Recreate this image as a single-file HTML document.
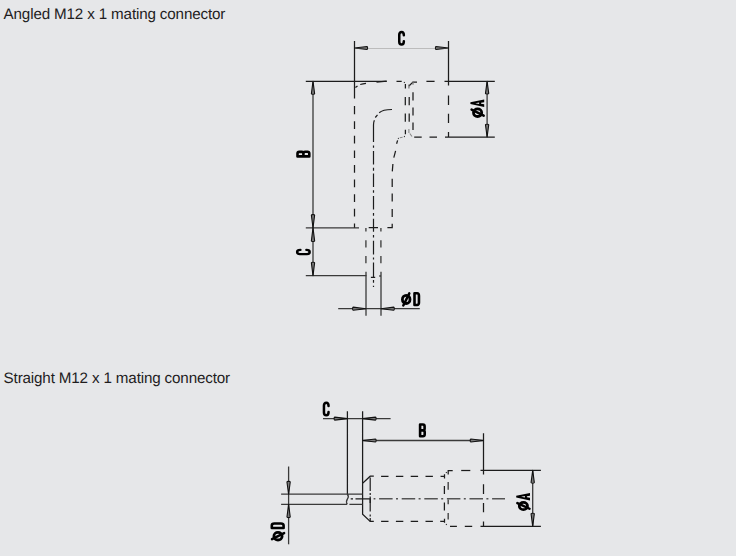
<!DOCTYPE html>
<html><head><meta charset="utf-8">
<style>
html,body{margin:0;padding:0;background:#e6e7e9;width:736px;height:556px;overflow:hidden}
.t{position:absolute;left:3.6px;font-family:"Liberation Sans",sans-serif;font-size:15.2px;letter-spacing:-0.15px;color:#1f1d1e;white-space:nowrap;line-height:16px;text-rendering:geometricPrecision}
svg{position:absolute;left:0;top:0}
.s{fill:none;stroke:#1c1c1c;stroke-width:1.25}
.g{fill:none;stroke:#3a3a3a;stroke-width:1.3}
.h{fill:none;stroke:#1c1c1c;stroke-width:1.25}
.hg{fill:none;stroke:#505050;stroke-width:1.5}
.c{fill:none;stroke:#1c1c1c;stroke-width:1.2}
.cg{fill:none;stroke:#555;stroke-width:1.5}
.lt{fill:none;stroke:#bcbcbc;stroke-width:1}
.ar{fill:#7a7a7a;stroke:#111;stroke-width:1.1;stroke-linejoin:round}
.lb{fill:none;stroke:#000;stroke-width:2.5;stroke-linejoin:round;stroke-linecap:round}
</style></head><body>
<div class="t" style="top:6.5px">Angled M12 x 1 mating connector</div>
<div class="t" style="top:370.5px">Straight M12 x 1 mating connector</div>
<svg width="736" height="556" viewBox="0 0 736 556">
<path class="s" d="M354.5 41V98.5 M448.5 41V85.5"/>
<path class="lt" d="M367 48.5H435.5"/>
<path class="s" d="M305.8 81.35H386.7 M444.5 81.35H494.8 M445 137H494.8"/>
<path class="g" d="M313 81V275.5"/>
<path class="g" d="M305.8 227.8H359 M305.8 275.6H366.5"/>
<path class="g" d="M487.1 81V137"/>
<path class="g" d="M366 271.8V315.7 M381 271.8V315.7"/>
<path class="g" d="M338.2 308.7H419.8"/>
<path class="h" d="M354.5 106V114.3 M354.5 121.2V128.9 M354.5 135.8V143.5 M354.5 150.4V158.1 M354.5 165.0V172.7 M354.5 179.6V187.3 M354.5 194.2V201.9 M354.5 208.8V216.5 M354.5 223.4V227.8"/>
<path class="h" d="M448.5 95.4V104.9 M448.5 113.7V123.1 M448.5 132V137"/>
<path class="h" d="M413 92.3V100.4 M413 107.4V115.6 M413 122.5V130"/>
<path class="h" d="M405.3 97V105.3 M405.3 113.5V121.7"/>
<path class="h" d="M409.2 97V105.3 M409.2 113.5V121.7"/>
<path class="h" d="M426.4 81.35H434.6"/>
<path class="h" d="M414.2 137H421.7 M429.5 137H437"/>
<path class="h" d="M396.5 81.35 H401.7 M404 82.1 L404.7 82.7 M405.4 84 V88.6 M408.9 86 L413 82 H417"/>
<path class="hg" d="M408.9 84.5 V88.6 M413 81.5 V84.7" style="stroke:#777;stroke-width:1.2"/>
<path class="h" d="M405.4 129.8 V134.3 M404 136.4 L404.8 136.8 M398 138.2 L398.7 138.6 M397.6 140.4 L396.6 143.7"/>
<path class="hg" d="M408.9 129 V133 M399.8 137.7 L402.6 137.2 M409.8 133.5 L412 136.5" style="stroke:#888;stroke-width:1.1"/>
<path class="h" d="M395.6 150.8 L393.8 157.6 M392.9 164 L392.3 171.4"/>
<path class="h" d="M392.2 178.8V186.9 M392.2 193.5V201.6 M392.2 209V217.1"/>
<path class="h" d="M392.2 223.7 V227.7 H387.4 M378 227.7H368.7"/>
<path class="h" d="M355.4 87.5 L357.5 85.9 M360.2 84.5 Q363 83.8 366 83.3 M376.5 82.2 L386.7 81.2"/>
<path class="hg" d="M365.9 228V231.5 M365.9 240.2V247.4 M365.9 256V263.2"/>
<path class="hg" d="M380.9 228V231.5 M380.9 240.2V247.4 M380.9 256V263.2"/>
<path class="c" d="M392 109.5 C386 109.5 381.5 110.6 379.2 112.7 M377.5 114.8 L375.3 117.5 M374.4 120.2 Q373.5 122 373.5 125 V141.9"/>
<path class="c" d="M373.5 145.5V147.7 M373.5 151V164.6 M373.5 167.8V170.7 M373.5 173.6V187 M373.5 190.2V192.8 M373.5 196V209.6 M373.5 212.9V215.8 M373.5 218.7V231.7 M373.5 235V237.5 M373.5 240.8V254.4 M373.5 257.6V259.6 M373.5 262.6V277.3 M373.5 280.1V282.7 M373.5 285.8V287"/>
<path class="c" d="M370.9 277.3H375.2 M379 276H381"/>
<path class="ar" d="M354.5 48L367.00 46.52Q367.60 46.52 367.60 48.00Q367.60 49.48 367.00 49.48Z"/>
<path class="ar" d="M448.5 48L436.00 49.48Q435.40 49.48 435.40 48.00Q435.40 46.52 436.00 46.52Z"/>
<path class="ar" d="M313 81.2L314.64 93.70Q314.64 94.30 313.00 94.30Q311.36 94.30 311.36 93.70Z"/>
<path class="ar" d="M313 227.8L311.36 215.20Q311.36 214.60 313.00 214.60Q314.64 214.60 314.64 215.20Z"/>
<path class="ar" d="M313 227.8L314.64 240.90Q314.64 241.50 313.00 241.50Q311.36 241.50 311.36 240.90Z"/>
<path class="ar" d="M313 275.6L311.36 262.80Q311.36 262.20 313.00 262.20Q314.64 262.20 314.64 262.80Z"/>
<path class="ar" d="M487.1 81.2L488.74 93.40Q488.74 94.00 487.10 94.00Q485.46 94.00 485.46 93.40Z"/>
<path class="ar" d="M487.1 137L485.46 124.80Q485.46 124.20 487.10 124.20Q488.74 124.20 488.74 124.80Z"/>
<path class="ar" d="M366 308.7L353.20 310.26Q352.60 310.26 352.60 308.70Q352.60 307.14 353.20 307.14Z"/>
<path class="ar" d="M381 308.7L393.70 307.14Q394.30 307.14 394.30 308.70Q394.30 310.26 393.70 310.26Z"/>
<path class="s" d="M347.4 411.3V494 M362.6 411.3V483.3 M483.5 433.2V474.4"/>
<path class="g" d="M323 418.6H390.6 M362.6 440.5H483.5"/>
<path class="s" d="M480.5 470.4H540.9 M480.5 526.4H540.9"/>
<path class="g" d="M532.7 470.4V526.4"/>
<path class="s" d="M373.8 476.2H370.2 L362.6 483.3 V514.3 L370.2 521.4 H373.8"/>
<path class="g" d="M281.1 494.2H362.6 M281.1 504.3H347 M349.4 504.3H362.6 M347.3 494.2 Q349.3 496.5 347.5 498.8 Q345.6 501.5 347.3 504.3"/>
<path class="g" d="M288.6 466.5V544.3"/>
<path class="c" d="M370.2 477.6V490.9 M370.2 493V495 M370.2 496.5V511.6 M370.2 514.5V516.5 M370.2 518V521.4"/>
<path class="h" d="M381.1 476.3H388.5 M395.9 476.3H403.3 M410.7 476.3H418.1 M425.5 476.3H432.9 M440.3 476.3H440.5"/>
<path class="h" d="M381.1 521.4H388.5 M395.9 521.4H403.3 M410.7 521.4H418.1 M425.5 521.4H432.9 M440.3 521.4H440.5"/>
<path class="h" d="M440.7 476.3H444.5 M444.5 474.3V478.4 M440.3 521.4H444.5 M444.5 518.7V522.8"/>
<path class="h" d="M446 472.2L446.7 472.9 M446 524.1L446.7 524.8"/>
<path class="h" d="M444.4 486V494 M444.4 502.5V510.5"/>
<path class="hg" d="M448.2 482V489.7 M448.2 499.5V504.3 M448.2 513V519.6"/>
<path class="h" d="M452.7 470.5H448.2V474.4"/>
<path class="h" d="M461.2 470.5H470.3"/>
<path class="h" d="M450 526.4H456.9 M464.8 526.4H472.2"/>
<path class="h" d="M483.5 484.2V494 M483.5 503.1V512.3 M483.5 521.5V526.4"/>
<path class="c" d="M350.7 498.8H353 M355.5 498.8H362.6 M362.6 498.8H370.2V503"/>
<path class="cg" d="M373.6 498.8H375.4 M379.1 498.8H392.6 M396.0 498.8H398.0 M401.7 498.8H415.2 M418.6 498.8H420.6 M424.3 498.8H437.8 M441.2 498.8H443.2 M446.9 498.8H460.4 M463.8 498.8H465.8 M469.5 498.8H483.0 M486.4 498.8H488.4 M492.1 498.8H505"/>
<path class="ar" d="M347.4 418.6L334.70 420.08Q334.10 420.08 334.10 418.60Q334.10 417.12 334.70 417.12Z"/>
<path class="ar" d="M362.6 418.6L375.50 417.12Q376.10 417.12 376.10 418.60Q376.10 420.08 375.50 420.08Z"/>
<path class="ar" d="M362.6 440.5L375.50 439.02Q376.10 439.02 376.10 440.50Q376.10 441.98 375.50 441.98Z"/>
<path class="ar" d="M483.5 440.5L470.80 441.98Q470.20 441.98 470.20 440.50Q470.20 439.02 470.80 439.02Z"/>
<path class="ar" d="M288.6 494.2L286.96 482.00Q286.96 481.40 288.60 481.40Q290.24 481.40 290.24 482.00Z"/>
<path class="ar" d="M288.6 504.3L290.24 517.00Q290.24 517.60 288.60 517.60Q286.96 517.60 286.96 517.00Z"/>
<path class="ar" d="M532.7 470.4L534.34 482.60Q534.34 483.20 532.70 483.20Q531.06 483.20 531.06 482.60Z"/>
<path class="ar" d="M532.7 526.4L531.06 513.80Q531.06 513.20 532.70 513.20Q534.34 513.20 534.34 513.80Z"/>
<defs>
<path id="gC" d="M5.85 -10.5 Q5.85 -13.75 3.6 -13.75 Q1.25 -13.75 1.25 -11 V-4 Q1.25 -1.25 3.6 -1.25 Q5.85 -1.25 5.85 -4.5"/>
<path id="gB" d="M1.3 -1.3 V-13.1 H4.2 Q5.8 -13.1 5.8 -11.4 V-8.8 Q5.8 -7.2 4.2 -7.2 H1.3 M4.2 -7.2 Q5.9 -7.2 5.9 -5.5 V-3 Q5.9 -1.3 4.2 -1.3 H1.3" stroke-width="2.6"/>
<path id="gD" d="M1.3 -1.3 V-13.1 H3.9 Q5.75 -13.1 5.75 -10.5 V-3.9 Q5.75 -1.3 3.9 -1.3 Z" stroke-width="2.6"/>
<path id="gA" d="M2.7 -14.1 H4.5 L7.3 -0.3 H4.6 L4.1 -3.4 H3.1 L2.6 -0.3 H-0.1 Z M3.6 -9.2 L4.35 -5.4 H2.85 Z" fill="#000" stroke="none" fill-rule="evenodd"/>
<g id="gF"><ellipse cx="5.1" cy="-6.9" rx="3.8" ry="4.1" stroke-width="2.8"/><path d="M8.2 -12.9 L2.2 -0.8"/></g>
<g id="gF2"><ellipse cx="5.1" cy="-6.9" rx="3.8" ry="4.1" stroke-width="2.8"/><path d="M2.2 -12.9 L8.2 -0.8"/></g>
</defs>
<g class="lb">
<use href="#gC" transform="translate(398 45.8)"/>
<use href="#gB" transform="translate(310.6 157.7) rotate(-90)"/>
<use href="#gC" transform="translate(310.9 255.2) rotate(-90) scale(0.9 1)"/>
<g transform="translate(484.5 117.8) rotate(-90)"><use href="#gF"/><use href="#gA" transform="translate(11 0)"/></g>
<g transform="translate(401.1 306.3)"><use href="#gF"/><use href="#gD" transform="translate(12.1 0)"/></g>
<use href="#gC" transform="translate(322.7 416.6)"/>
<use href="#gB" transform="translate(418.8 437.6)"/>
<g transform="translate(530.3 510.9) rotate(-90)"><use href="#gF" transform="scale(0.95 1)"/><use href="#gA" transform="translate(10.6 0)"/></g>
<g transform="translate(284.9 541.3) rotate(-90)"><use href="#gF2"/><use href="#gD" transform="translate(12 0)"/></g>
</g>
</svg>
</body></html>
